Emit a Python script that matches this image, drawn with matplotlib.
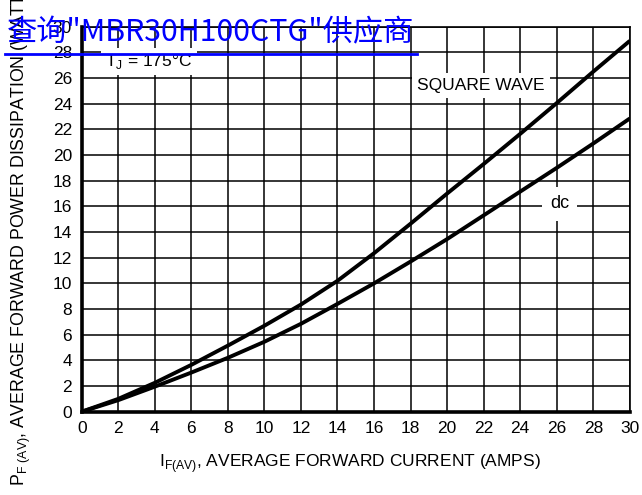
import matplotlib
matplotlib.use("Agg")
import matplotlib.pyplot as plt
from matplotlib.lines import Line2D

# values
current = [0, 2, 4, 6, 8, 10, 12, 14, 16, 18, 20, 22, 24, 26, 28, 30]
square_wave = [0, 1.0, 2.25, 3.65, 5.15, 6.7, 8.35, 10.2, 12.35, 14.65, 17.0, 19.3, 21.65, 24.05, 26.5, 28.9]
dc = [0, 0.9, 1.95, 3.05, 4.2, 5.45, 6.85, 8.4, 10.0, 11.7, 13.45, 15.3, 17.15, 19.0, 20.9, 22.85]

x_ticks = list(range(0, 31, 2))
y_ticks = list(range(0, 31, 2))

plt.rcParams['font.family'] = ['Liberation Sans', 'DejaVu Sans']
plt.rcParams['mathtext.fontset'] = 'custom'

fig = plt.figure(figsize=(6.42, 4.95), dpi=100)
ax = fig.add_axes([0.1273, 0.1683, 0.8537, 0.7777])

ax.plot(current, square_wave, color='black', lw=2.8, solid_capstyle='butt', zorder=3)
ax.plot(current, dc, color='black', lw=2.8, solid_capstyle='butt', zorder=3)

ax.set_xlim(0, 30)
ax.set_ylim(0, 30)
ax.set_xticks(x_ticks)
ax.set_yticks(y_ticks)
ax.grid(True, color='black', lw=1.1)
ax.tick_params(length=0, labelsize=12.5)
ax.tick_params(axis='y', pad=7)
ax.tick_params(axis='x', pad=7)
for side in ['left', 'bottom']:
    ax.spines[side].set_linewidth(2.6)
for side in ['top', 'right']:
    ax.spines[side].set_linewidth(1.2)

ax.text(1.3, 27.3, r'T$_\mathregular{J}$ = 175°C', fontsize=12.5, va='center', ha='left',
        bbox=dict(facecolor='white', edgecolor='none', pad=3), zorder=4)
ax.text(21.85, 25.4, 'SQUARE WAVE', fontsize=12.5, va='center', ha='center',
        bbox=dict(facecolor='white', edgecolor='none', pad=3.5), zorder=4)
ax.text(26.15, 16.2, 'dc', fontsize=13, va='center', ha='center',
        bbox=dict(facecolor='white', edgecolor='none', pad=6), zorder=4)

fig.text(350 / 642, 1 - 464 / 495, r'I$_\mathregular{F(AV)}$, AVERAGE FORWARD CURRENT (AMPS)',
         fontsize=12.5, ha='center', va='center')
fig.text(21 / 642, 1 - 486 / 495, r'P$_\mathregular{F\ (AV)}$, AVERAGE FORWARD POWER DISSIPATION (WATTS)',
         fontsize=12.8, rotation=90, ha='center', va='bottom')

fig.text(7 / 642, 1 - 33 / 495, '查询"MBR30H100CTG"供应商', color='#0000ff', fontsize=21.8,
         family=['Noto Sans CJK SC', 'DejaVu Sans'], ha='left', va='center')
fig.add_artist(Line2D([5 / 642, 417 / 642], [1 - 54 / 495, 1 - 54 / 495], color='#0000ff', lw=2))

fig.savefig('out.png', dpi=100)
